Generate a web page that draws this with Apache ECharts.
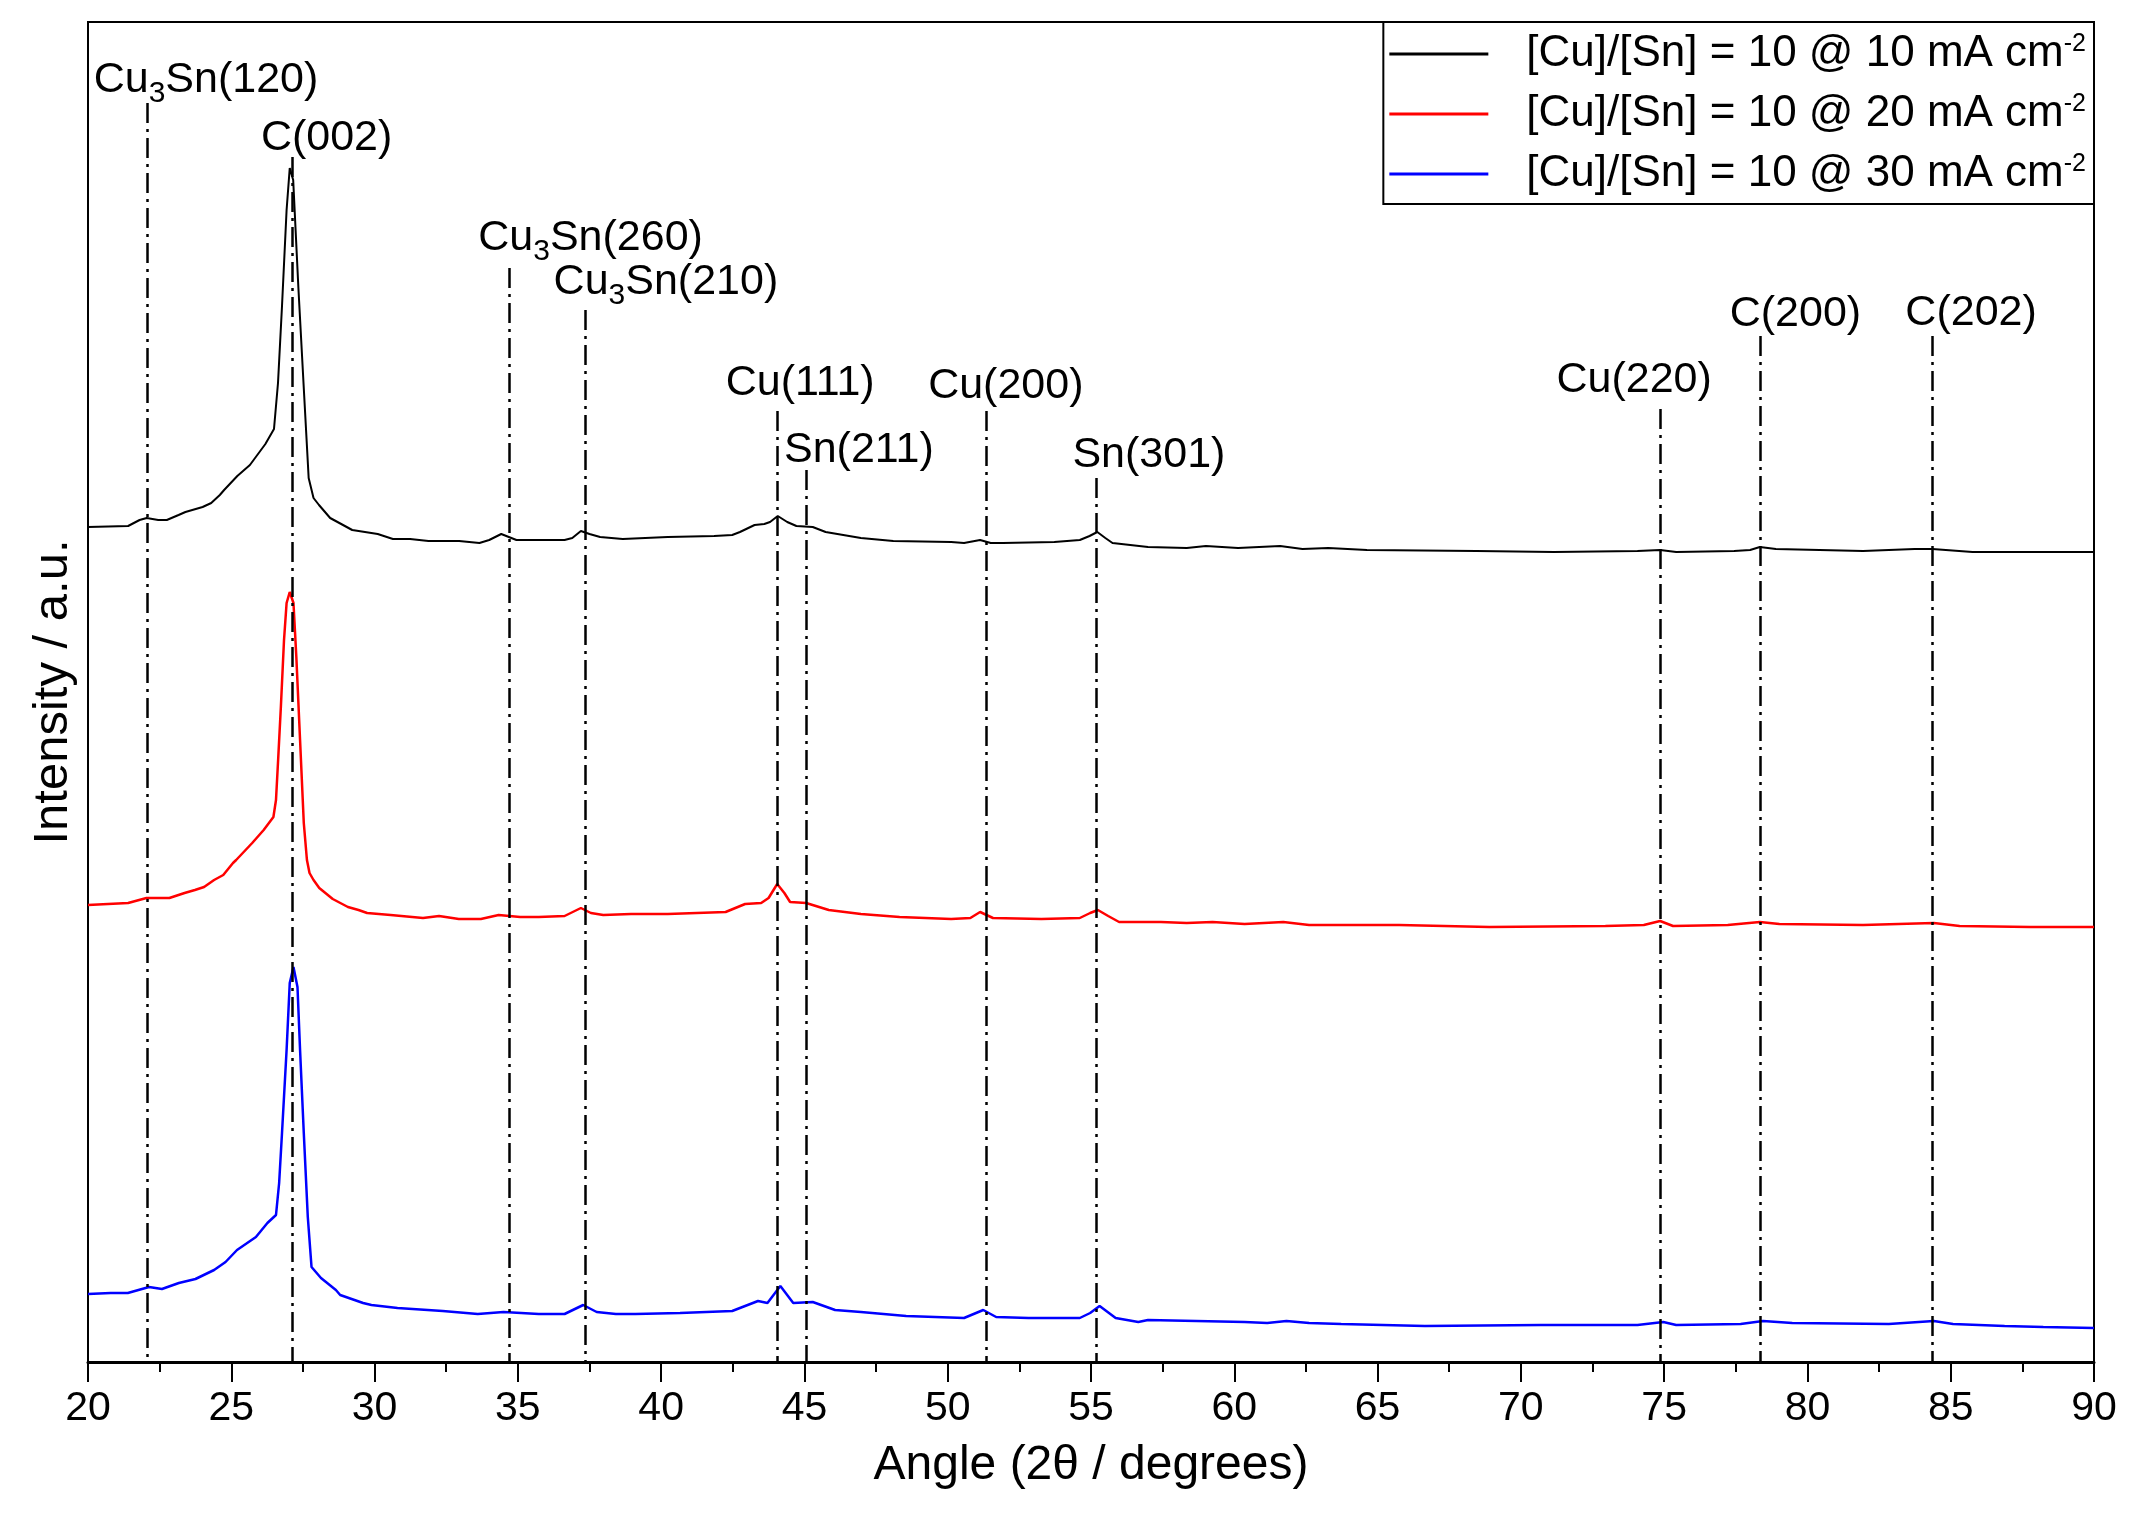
<!DOCTYPE html>
<html>
<head>
<meta charset="utf-8">
<script src="https://cdn.jsdelivr.net/npm/echarts@6/dist/echarts.min.js"></script>
<style>
  html, body { margin: 0; padding: 0; background: #fff; }
  #chart { width: 2153px; height: 1520px; }
</style>
</head>
<body>
<div id="chart"></div>
<script>
// XRD patterns, [2theta, intensity a.u.] (curves already offset as in the figure)
const xrd10 = [
  [20.0, 835], [21.4, 836], [21.8, 842], [22.05, 844], [22.45, 842], [22.75, 842],
  [23.16, 847], [23.4, 850], [24.0, 855], [24.3, 859], [24.6, 867], [24.75, 872],
  [25.21, 886], [25.65, 897], [26.19, 918], [26.49, 933], [26.63, 979], [26.77, 1056],
  [26.93, 1152], [27.04, 1194], [27.16, 1182], [27.34, 1075], [27.52, 979], [27.7, 884],
  [27.87, 864], [28.06, 857], [28.45, 844], [29.22, 832], [30.11, 828], [30.64, 823],
  [31.24, 823], [31.88, 821], [32.95, 821], [33.66, 819], [34.0, 822], [34.42, 828],
  [34.95, 822], [36.63, 822], [36.9, 824], [37.2, 831], [37.5, 828], [37.87, 825],
  [38.66, 823], [40.23, 825], [41.85, 826], [42.48, 827], [42.75, 830], [43.26, 837],
  [43.6, 838], [43.8, 840], [44.07, 846], [44.4, 840], [44.72, 836], [45.29, 835],
  [45.74, 830], [46.97, 824], [48.1, 821], [50.12, 820], [50.57, 819], [51.13, 822],
  [51.5, 819], [51.92, 819], [53.72, 820], [54.61, 822], [54.95, 826], [55.22, 830],
  [55.5, 824], [55.75, 819], [56.99, 815], [58.34, 814], [59.01, 816], [60.13, 814],
  [61.6, 816], [62.38, 813], [63.28, 814], [64.63, 812], [68.45, 811], [71.15, 810],
  [74.07, 811], [74.86, 812], [75.42, 810], [77.44, 811], [78.0, 812], [78.34, 815],
  [78.9, 813], [81.94, 811], [83.74, 813], [84.36, 813], [85.76, 810], [87.78, 810],
  [90.0, 810]
];
const xrd20 = [
  [20.0, 457], [21.4, 459], [22.04, 464], [22.84, 464], [23.37, 469], [23.73, 472],
  [24.05, 475], [24.4, 482], [24.72, 487], [25.06, 499], [25.17, 502], [25.73, 519],
  [26.13, 532], [26.47, 545], [26.56, 562], [26.64, 605], [26.73, 655], [26.84, 722],
  [26.93, 759], [27.04, 770], [27.17, 759], [27.27, 705], [27.4, 622], [27.53, 539],
  [27.64, 502], [27.73, 489], [27.87, 482], [28.07, 474], [28.54, 463], [29.07, 455],
  [29.44, 452], [29.74, 449], [30.56, 447], [31.69, 444], [32.25, 446], [32.94, 443],
  [33.71, 443], [34.33, 447], [35.08, 445], [35.73, 445], [36.63, 446], [37.2, 454],
  [37.55, 449], [37.98, 447], [38.95, 448], [40.23, 448], [42.25, 450], [42.93, 458],
  [43.49, 459], [43.75, 464], [44.05, 478], [44.3, 469], [44.5, 460], [45.06, 459],
  [45.85, 452], [46.97, 448], [48.32, 445], [50.12, 443], [50.79, 444], [51.13, 450],
  [51.58, 444], [53.27, 443], [54.61, 444], [54.97, 449], [55.24, 452], [55.6, 446],
  [55.98, 440], [57.44, 440], [58.34, 439], [59.24, 440], [60.36, 438], [61.71, 440],
  [62.61, 437], [65.75, 437], [68.9, 435], [72.95, 436], [74.29, 437], [74.86, 441],
  [75.31, 436], [77.22, 437], [78.34, 440], [79.02, 438], [81.94, 437], [84.41, 439],
  [85.31, 436], [87.78, 435], [90.0, 435]
];
const xrd30 = [
  [20.0, 68], [20.79, 69], [21.39, 69], [22.13, 75], [22.58, 73], [23.17, 79],
  [23.75, 83], [24.4, 92], [24.8, 100], [25.2, 112], [25.86, 125], [26.26, 139],
  [26.56, 147], [26.67, 179], [26.77, 229], [26.93, 312], [27.04, 379], [27.17, 395],
  [27.31, 375], [27.4, 312], [27.53, 229], [27.67, 145], [27.8, 95], [28.13, 84],
  [28.65, 72], [28.8, 67], [29.6, 59], [29.89, 57], [30.8, 54], [32.38, 51],
  [33.6, 48], [34.5, 50], [35.73, 48], [36.63, 48], [37.28, 57], [37.75, 50],
  [38.42, 48], [39.1, 48], [40.66, 49], [42.48, 51], [43.38, 61], [43.71, 59],
  [44.16, 76], [44.61, 59], [45.29, 60], [46.07, 52], [46.97, 50], [48.55, 46],
  [50.57, 44], [51.24, 52], [51.69, 45], [52.82, 44], [54.61, 44], [54.97, 49],
  [55.3, 56], [55.86, 44], [56.65, 40], [56.99, 42], [60.36, 40], [61.15, 39],
  [61.82, 41], [62.61, 39], [63.73, 38], [66.65, 36], [70.7, 37], [74.07, 37],
  [74.97, 40], [75.42, 37], [77.67, 38], [78.45, 41], [79.47, 39], [82.84, 38],
  [84.41, 41], [85.08, 38], [86.88, 36], [88.23, 35], [90.0, 34]
];

const seriesNames = [
  '[Cu]/[Sn] = 10 @ 10 mA cm-2',
  '[Cu]/[Sn] = 10 @ 20 mA cm-2',
  '[Cu]/[Sn] = 10 @ 30 mA cm-2'
];
const seriesColors = ['#000000', '#ff0000', '#0000ff'];

// reflections marked with dash-dot lines
const peakNames = ['Cu3Sn(120)', 'C(002)', 'Cu3Sn(260)', 'Cu3Sn(210)', 'Cu(111)', 'Sn(211)',
  'Cu(200)', 'Sn(301)', 'Cu(220)', 'C(200)', 'C(202)'];
const peakAngles = [22.06, 27.14, 34.71, 37.34, 44.05, 45.05, 51.33, 55.17, 74.86, 78.36, 84.35];

// label layout (where the annotation text and line top sit)
const lineTop = [1259, 1205, 1094, 1052, 951, 892, 951, 884, 953, 1026, 1026];
const textLevel = [1282, 1224, 1124, 1080, 979, 912, 976, 907, 982, 1048, 1049];
const textShift = [59, 34, 81, 81, 23, 53, 20, 53, -26, 35, 39];

const FONT = '"Liberation Sans", Arial, sans-serif';

const chart = echarts.init(document.getElementById('chart'), null, { renderer: 'canvas' });

function peakLabel(name) {
  // Cu3Sn -> Cu + subscript 3 + Sn
  if (name.indexOf('Cu3Sn') === 0) {
    return '{a|Cu}{s|3}{a|' + name.slice(3) + '}';
  }
  return '{a|' + name + '}';
}

const lineSeries = seriesNames.map(function (name, i) {
  return {
    name: name,
    type: 'line',
    data: [xrd10, xrd20, xrd30][i],
    showSymbol: false,
    symbol: 'none',
    smooth: false,
    lineStyle: { color: seriesColors[i], width: i === 0 ? 2 : 2.5 },
    itemStyle: { color: seriesColors[i] },
    z: 3
  };
});

const labelSeries = {
  name: 'peaks',
  type: 'scatter',
  symbol: 'circle',
  symbolSize: 1,
  itemStyle: { color: 'rgba(0,0,0,0)', opacity: 1 },
  silent: true,
  z: 4,
  data: peakAngles.map(function (a, i) {
    return {
      value: [a, textLevel[i]],
      name: peakNames[i],
      label: { offset: [textShift[i], 0] }
    };
  }),
  label: {
    show: true,
    position: 'inside',
    color: '#000',
    opacity: 1,
    textBorderWidth: 0,
    formatter: function (p) { return peakLabel(p.name); },
    rich: {
      a: { fontSize: 43, lineHeight: 43, color: '#000', fontFamily: FONT, textBorderWidth: 0 },
      s: { fontSize: 30, height: 16, lineHeight: 16, verticalAlign: 'bottom', color: '#000', fontFamily: FONT, textBorderWidth: 0 }
    }
  },
  markLine: {
    silent: true,
    symbol: ['none', 'none'],
    label: { show: false },
    lineStyle: { color: '#000', width: 2.5, type: [20, 6, 3, 6] },
    data: peakAngles.map(function (a, i) {
      return [{ coord: [a, lineTop[i]] }, { coord: [a, 0] }];
    })
  }
};

const option = {
  backgroundColor: '#ffffff',
  animation: false,
  grid: {
    left: 88, right: 59, top: 22, bottom: 158,
    show: true, borderColor: '#000', borderWidth: 2, backgroundColor: 'transparent'
  },
  legend: {
    data: seriesNames,
    orient: 'vertical',
    right: 59,
    top: 22,
    padding: [10, 8, 8, 6],
    itemGap: 16,
    icon: 'rect',
    itemWidth: 99,
    itemHeight: 3,
    borderColor: '#000',
    borderWidth: 2,
    backgroundColor: '#fff',
    formatter: function (name) {
      return '{t|' + name.replace(/-2$/, '') + '}{s|-2}';
    },
    textStyle: {
      color: '#000',
      fontFamily: FONT,
      fontSize: 44,
      rich: {
        t: { fontSize: 44, lineHeight: 44, padding: [0, 0, 0, 33], color: '#000', fontFamily: FONT },
        s: { fontSize: 25, lineHeight: 28, verticalAlign: 'top', color: '#000', fontFamily: FONT }
      }
    }
  },
  xAxis: {
    type: 'value',
    min: 20,
    max: 90,
    interval: 5,
    name: 'Angle (2\u03b8 / degrees)',
    nameLocation: 'middle',
    nameGap: 80,
    nameTextStyle: { fontSize: 48, color: '#000', fontFamily: FONT },
    axisLine: { show: true, onZero: false, lineStyle: { color: '#000', width: 3 } },
    axisTick: { show: true, inside: false, length: 20, lineStyle: { color: '#000', width: 2 } },
    minorTick: { show: true, splitNumber: 2, length: 10, lineStyle: { color: '#000', width: 2 } },
    axisLabel: { fontSize: 41, color: '#000', margin: 26, fontFamily: FONT },
    splitLine: { show: false }
  },
  yAxis: {
    type: 'value',
    min: 0,
    max: 1340,
    name: 'Intensity / a.u.',
    nameLocation: 'middle',
    nameGap: 10,
    nameTextStyle: { fontSize: 49, color: '#000', fontFamily: FONT },
    axisLine: { show: true, lineStyle: { color: '#000', width: 2 } },
    axisTick: { show: false },
    axisLabel: { show: false },
    splitLine: { show: false }
  },
  series: lineSeries.concat([labelSeries])
};

chart.setOption(option);
</script>
</body>
</html>
